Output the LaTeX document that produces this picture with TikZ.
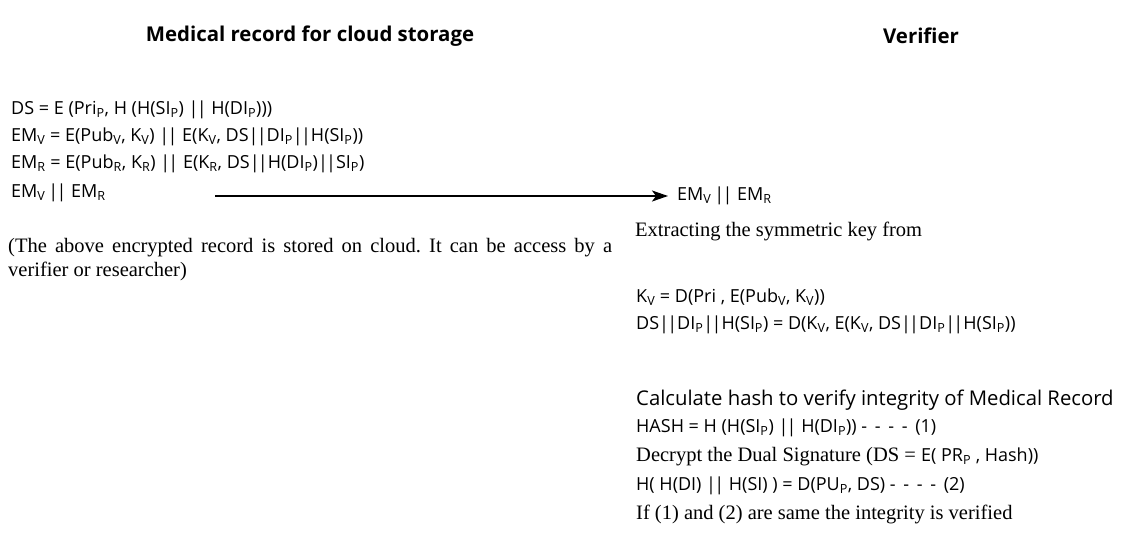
\documentclass[tikz,border=0pt]{standalone}
\usepackage{fontspec}
\setmainfont{Liberation Serif}
\setsansfont{Open Sans}
\usetikzlibrary{arrows.meta}

\newcommand{\sbs}[1]{\textsubscript{#1}}
\newcommand{\dbar}{|\kern-1.8pt|}
\newcommand{\dashrun}{-\, -\, -\, -\,}
\frenchspacing

\tikzset{
    formula/.style={anchor=west, inner sep=0pt, font=\sffamily\fontsize{18}{20}\selectfont},
    bigformula/.style={anchor=west, inner sep=0pt, font=\sffamily\fontsize{20.3}{22}\selectfont},
    prose/.style={anchor=west, inner sep=0pt, align=left, font=\fontsize{20.5}{24}\selectfont},
    heading/.style={inner sep=0pt, font=\sffamily\bfseries\fontsize{20.4}{22}\selectfont},
}

\begin{document}
\begin{tikzpicture}[x=1pt, y=-1pt]
    \useasboundingbox (0,0) rectangle (1125,541);

    % headings
    \node[heading] (hRecord) at (310,36) {Medical record for cloud storage};
    \node[heading] (hVerifier) at (921,36) {Verifier};

    % left side: the stored record
    \node[formula] (ds) at (11,110) {DS = E (Pri\sbs{P}, H (H(SI\sbs{P}) \dbar{} H(DI\sbs{P})))};
    \node[formula] (emV) at (11,137) {EM\sbs{V} = E(Pub\sbs{V}, K\sbs{V}) \dbar{} E(K\sbs{V}, DS\dbar{}DI\sbs{P}\dbar{}H(SI\sbs{P}))};
    \node[formula] (emR) at (11,164) {EM\sbs{R} = E(Pub\sbs{R}, K\sbs{R}) \dbar{} E(K\sbs{R}, DS\dbar{}H(DI\sbs{P})\dbar{}SI\sbs{P})};
    \node[formula] (emBoth) at (11,193) {EM\sbs{V}\,\dbar{} EM\sbs{R}};
    \node[prose, text width=604pt, align=justify] (note) at (8,260) {(The above encrypted record is stored on cloud. It can be access by a\linebreak verifier or researcher)};

    % right side: the verifier
    \node[formula] (rEM) at (677,196) {EM\sbs{V}\,\dbar{} EM\sbs{R}};
    \node[prose] (extract) at (635,231) {Extracting the symmetric key from};
    \node[formula] (kV) at (636,297) {K\sbs{V} = D(Pri , E(Pub\sbs{V}, K\sbs{V}))};
    \node[formula] (dec) at (636,325) {DS\dbar{}DI\sbs{P}\dbar{}H(SI\sbs{P}) = D(K\sbs{V}, E(K\sbs{V}, DS\dbar{}DI\sbs{P}\dbar{}H(SI\sbs{P}))};
    \node[bigformula] (calc) at (636,400) {Calculate hash to verify integrity of Medical Record};
    \node[formula] (hash) at (636,428) {HASH = H (H(SI\sbs{P}) \dbar{} H(DI\sbs{P})) \dashrun{} (1)};
    \node[prose] (dual) at (636,457) {Decrypt the Dual Signature (DS = {\sffamily\fontsize{18}{20}\selectfont E( PR\sbs{P} , Hash))}};
    \node[formula] (hh) at (636,486) {H( H(DI) \dbar{} H(SI) ) = D(PU\sbs{P}, DS) \dashrun{} (2)};
    \node[prose] (same) at (636,514) {If (1) and (2) are same the integrity is verified};

    % transfer to the verifier
    \coordinate (send) at (215,196);
    \draw[-{Stealth[length=16pt, width=11pt, inset=4pt]}, line width=1.6pt] (send) -- ([xshift=-9pt]rEM.west);
\end{tikzpicture}
\end{document}
